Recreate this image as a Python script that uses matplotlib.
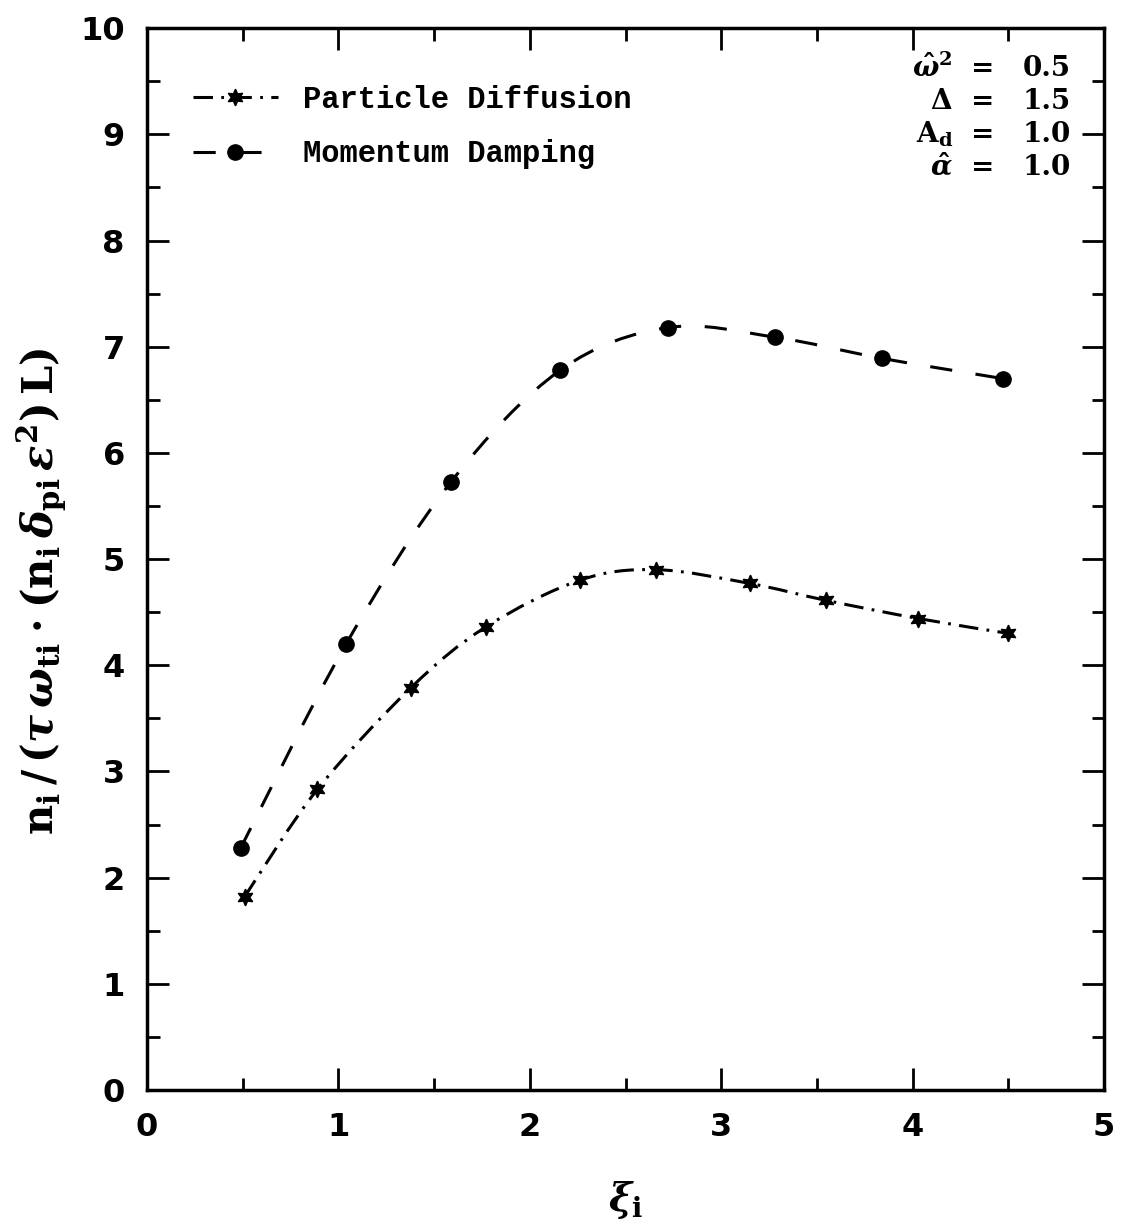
import numpy as np
import matplotlib
matplotlib.use("Agg")
import matplotlib.pyplot as plt
from matplotlib.path import Path
from matplotlib.patches import PathPatch
from matplotlib.lines import Line2D
from matplotlib.ticker import MultipleLocator

# values
xi_diff = [0.51, 0.89, 1.38, 1.77, 2.26, 2.66, 3.15, 3.55, 4.03, 4.50]
n_diff = [1.82, 2.83, 3.79, 4.36, 4.80, 4.90, 4.77, 4.61, 4.44, 4.30]

xi_damp = [0.49, 1.04, 1.59, 2.16, 2.72, 3.28, 3.84, 4.47]
n_damp = [2.28, 4.20, 5.73, 6.78, 7.18, 7.09, 6.89, 6.70]

params = [(r'$\hat{\omega}^{2}$', '0.5'),
          (r'$\Delta$', '1.5'),
          (r'$\mathrm{A_d}$', '1.0'),
          (r'$\hat{\alpha}$', '1.0')]

plt.rcParams['lines.scale_dashes'] = False
plt.rcParams['mathtext.fontset'] = 'custom'
plt.rcParams['mathtext.rm'] = 'DejaVu Serif:bold'
plt.rcParams['mathtext.bf'] = 'DejaVu Serif:bold'
plt.rcParams['mathtext.it'] = 'DejaVu Serif:italic:bold'
plt.rcParams['font.family'] = ['DejaVu Serif']


def smooth_path(xs, ys):
    # catmull-rom through the points, drawn as cubic beziers
    pts = np.column_stack([xs, ys])
    verts = [pts[0]]
    codes = [Path.MOVETO]
    for i in range(len(pts) - 1):
        p0 = pts[i - 1] if i > 0 else pts[i]
        p1 = pts[i]
        p2 = pts[i + 1]
        p3 = pts[i + 2] if i + 2 < len(pts) else pts[i + 1]
        verts += [p1 + (p2 - p0) / 6, p2 - (p3 - p1) / 6, p2]
        codes += [Path.CURVE4] * 3
    return Path(verts, codes)


dash_diff = (0, (14, 6, 2, 6))
dash_damp = (0, (16, 17))
lw = 2.2
star = (6, 1, 0)

fig = plt.figure(figsize=(11.22, 12.24), dpi=100)
ax = fig.add_axes([0.131, 0.1095, 0.853, 0.8675])

ax.add_patch(PathPatch(smooth_path(xi_damp, n_damp), fill=False, lw=lw,
                       ls=dash_damp, ec='black', capstyle='butt'))
ax.add_patch(PathPatch(smooth_path(xi_diff, n_diff), fill=False, lw=lw,
                       ls=dash_diff, ec='black', capstyle='butt'))
ax.plot(xi_damp, n_damp, ls='none', marker='o', ms=11, color='black')
ax.plot(xi_diff, n_diff, ls='none', marker=star, ms=12, color='black')

ax.set_xlim(0, 5)
ax.set_ylim(0, 10)
ax.xaxis.set_major_locator(MultipleLocator(1))
ax.xaxis.set_minor_locator(MultipleLocator(0.5))
ax.yaxis.set_major_locator(MultipleLocator(1))
ax.yaxis.set_minor_locator(MultipleLocator(0.5))
ax.tick_params(which='both', direction='in', top=True, right=True, width=2)
ax.tick_params(which='major', length=16, labelsize=23)
ax.tick_params(axis='x', which='major', pad=16)
ax.tick_params(axis='y', which='major', pad=16)
ax.tick_params(which='minor', length=9)
for lab in ax.get_xticklabels() + ax.get_yticklabels():
    lab.set_fontweight('bold')
    lab.set_family('DejaVu Sans')
for s in ax.spines.values():
    s.set_linewidth(2.5)

ax.set_xlabel(r'$\xi_{\mathrm{i}}$', fontsize=28, labelpad=26)
ax.set_ylabel(r'$\mathrm{n_i}\,/\,(\tau\,\omega_{\mathrm{ti}}\cdot(\mathrm{n_i}\,\delta_{\mathrm{pi}}\,'
              r'\varepsilon^{2})\,\mathrm{L})$', fontsize=30)
ax.yaxis.set_label_coords(-0.082, 0.47)

handles = [Line2D([], [], color='black', lw=lw, ls=dash_diff, marker=star, ms=12),
           Line2D([], [], color='black', lw=lw, ls=dash_damp, marker='o', ms=11)]
ax.legend(handles, ['Particle Diffusion', 'Momentum Damping'], loc='upper left',
          bbox_to_anchor=(0.035, 0.958), frameon=False, numpoints=1,
          handlelength=2.8, handletextpad=0.8, labelspacing=0.8,
          borderaxespad=0, prop={'family': 'Liberation Mono', 'weight': 'bold', 'size': 22})

for i, (sym, val) in enumerate(params):
    y = 0.962 - i * 0.031
    ax.text(0.842, y, sym, transform=ax.transAxes, ha='right', va='center',
            fontsize=20, fontweight='bold')
    ax.text(0.873, y, '=', transform=ax.transAxes, ha='center', va='center',
            fontsize=20, fontweight='bold')
    ax.text(0.965, y, val, transform=ax.transAxes, ha='right', va='center',
            fontsize=20, fontweight='bold')

fig.savefig('out.png', dpi=100)
